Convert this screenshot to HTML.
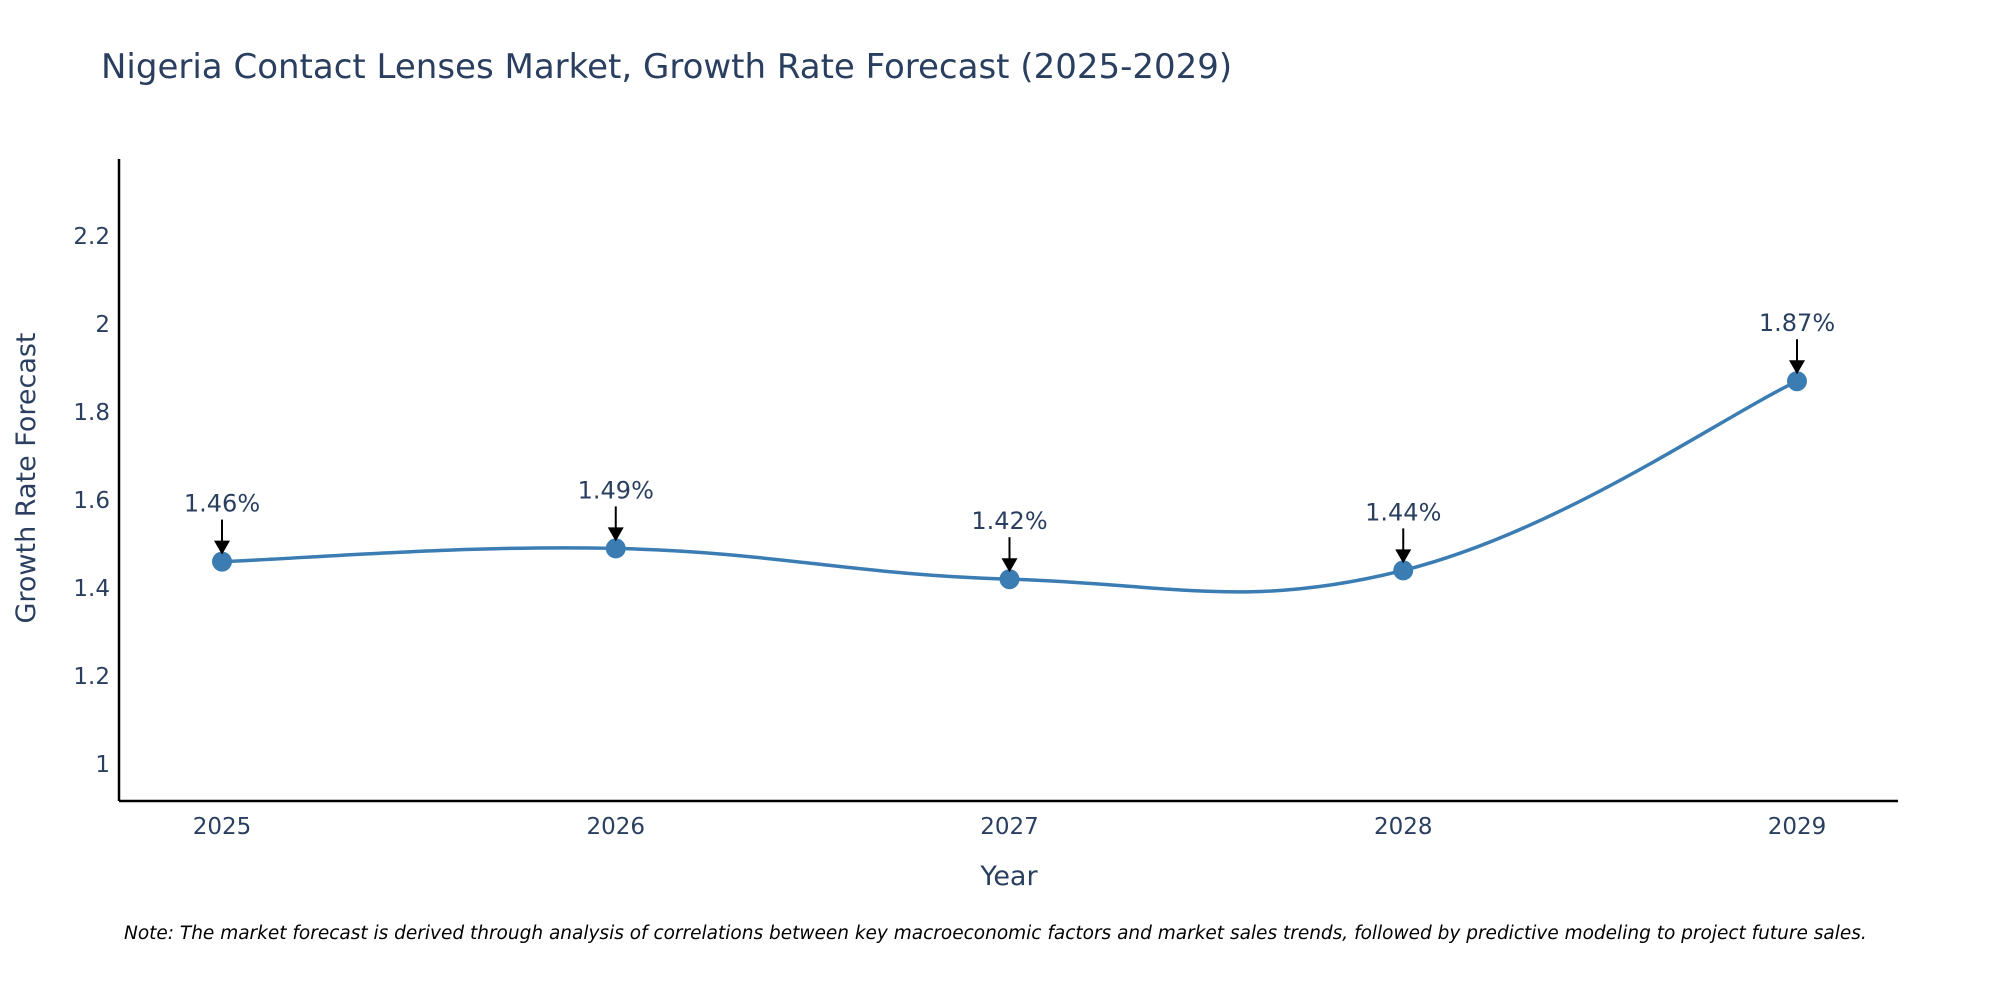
<!DOCTYPE html>
<html><head><meta charset="utf-8"><style>
body{margin:0;background:#fff;}
svg{display:block;font-family:"DejaVu Sans","Liberation Sans",sans-serif;}
</style></head><body>
<svg id="chart" width="2000" height="1000">
<text x="101" y="78" font-size="34" fill="#2a3f5f">Nigeria Contact Lenses Market, Growth Rate Forecast (2025-2029)</text>
<g id="yticks"></g>
<g id="xticks"></g>
<path id="line" fill="none" stroke="#3b7db3" stroke-width="3.5"/>
<g id="points"></g>
<g id="annos"></g>
<line x1="119" y1="159" x2="119" y2="801" stroke="#000" stroke-width="2.5"/>
<line x1="119" y1="801" x2="1898" y2="801" stroke="#000" stroke-width="2.5"/>
<text x="1009" y="885" font-size="27" fill="#2a3f5f" text-anchor="middle">Year</text>
<text x="0" y="0" font-size="27" fill="#2a3f5f" text-anchor="middle" transform="translate(35,478) rotate(-90)">Growth Rate Forecast</text>
<text x="124" y="939" font-size="18.5" font-style="italic" fill="#000">Note: The market forecast is derived through analysis of correlations between key macroeconomic factors and market sales trends, followed by predictive modeling to project future sales.</text>
</svg>
<script>
const years=[2025,2026,2027,2028,2029];
const values=[1.46,1.49,1.42,1.44,1.87];
const labels=["1.46%","1.49%","1.42%","1.44%","1.87%"];
const yTicks=[1,1.2,1.4,1.6,1.8,2,2.2];
const yTickLabels=["1","1.2","1.4","1.6","1.8","2","2.2"];
const NS="http://www.w3.org/2000/svg";
function xs(v){return 222+(v-2025)*(1797-222)/4;}
function ys(v){return 764-(v-1)*440;}
function mk(t,a,p){const e=document.createElementNS(NS,t);for(const k in a)e.setAttribute(k,a[k]);p.appendChild(e);return e;}
const yt=document.getElementById('yticks');
yTicks.forEach((t,i)=>{const e=mk('text',{x:110,y:ys(t)+8,'font-size':23,fill:'#2a3f5f','text-anchor':'end'},yt);


e.textContent=yTickLabels[i];});
const xt=document.getElementById('xticks');
years.forEach(y=>{const e=mk('text',{x:xs(y),y:834,'font-size':23,fill:'#2a3f5f','text-anchor':'middle'},xt);


e.textContent=y;});
const P=years.map((y,i)=>[xs(y),ys(values[i])]);
let d=`M${P[0][0]},${P[0][1]}`;const s=0.2;
for(let i=0;i<P.length-1;i++){const p0=P[Math.max(0,i-1)],p1=P[i],p2=P[i+1],p3=P[Math.min(P.length-1,i+2)];
const c1=[p1[0]+(p2[0]-p0[0])*s,p1[1]+(p2[1]-p0[1])*s],c2=[p2[0]-(p3[0]-p1[0])*s,p2[1]-(p3[1]-p1[1])*s];
d+=` C${c1[0]},${c1[1]} ${c2[0]},${c2[1]} ${p2[0]},${p2[1]}`;}
document.getElementById('line').setAttribute('d',d);
const pts=document.getElementById('points'),an=document.getElementById('annos');
P.forEach((p,i)=>{const c=mk('circle',{cx:p[0],cy:p[1],r:10,fill:'#3b7db3'},pts);


const l=mk('line',{x1:p[0],y1:p[1]-42,x2:p[0],y2:p[1]-18,stroke:'#000','stroke-width':2},an);


const h=mk('polygon',{points:`${p[0]-8},${p[1]-21} ${p[0]+8},${p[1]-21} ${p[0]},${p[1]-7}`,fill:'#000'},an);


const t=mk('text',{x:p[0],y:p[1]-50,'font-size':24,fill:'#2a3f5f','text-anchor':'middle'},an);


t.textContent=labels[i];});
</script>
</body></html>
